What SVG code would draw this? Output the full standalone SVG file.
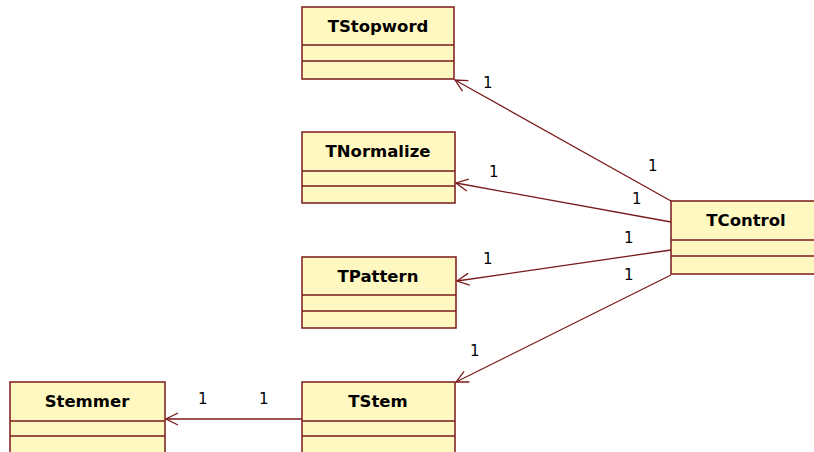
<svg xmlns="http://www.w3.org/2000/svg" width="814" height="452" viewBox="0 0 814 452">
<style>
.box{fill:#fff8c0;stroke:#7a1a1a;stroke-width:1.5}
.div{stroke:#7a1a1a;stroke-width:1.5}
.name{font-family:"DejaVu Sans",sans-serif;font-weight:bold;font-size:16.5px;fill:#000;text-anchor:middle}
.mult{font-family:"DejaVu Sans",sans-serif;font-size:15px;fill:#000}
.conn{stroke:#7a1a1a;stroke-width:1.3;fill:none;marker-end:url(#open)}
</style>
<defs>
<marker id="open" viewBox="0 0 14 14" refX="13" refY="7" markerWidth="14" markerHeight="14" markerUnits="userSpaceOnUse" orient="auto">
<path d="M1,1 L13,7 L1,13" fill="none" stroke="#7a1a1a" stroke-width="1.3"/>
</marker>
</defs>
<rect width="814" height="452" fill="#fff"/>
<g id="connectors">
<line class="conn" x1="671" y1="201" x2="455" y2="80"/>
<line class="conn" x1="671" y1="222" x2="456" y2="183"/>
<line class="conn" x1="671" y1="250" x2="457" y2="281"/>
<line class="conn" x1="671" y1="275" x2="456" y2="382"/>
<line class="conn" x1="302" y1="419" x2="166" y2="419"/>
<text class="mult" x="483" y="88">1</text>
<text class="mult" x="648" y="171">1</text>
<text class="mult" x="489" y="177">1</text>
<text class="mult" x="632" y="204">1</text>
<text class="mult" x="483" y="264">1</text>
<text class="mult" x="624" y="243">1</text>
<text class="mult" x="624" y="280">1</text>
<text class="mult" x="470" y="356">1</text>
<text class="mult" x="198" y="404">1</text>
<text class="mult" x="259" y="404">1</text>
</g>
<g id="TStopword">
<rect class="box" x="302" y="7" width="152" height="72"/>
<line class="div" x1="302" y1="45" x2="454" y2="45"/>
<line class="div" x1="302" y1="61" x2="454" y2="61"/>
<text class="name" x="378" y="32">TStopword</text>
</g>
<g id="TNormalize">
<rect class="box" x="302" y="132" width="153" height="71"/>
<line class="div" x1="302" y1="171" x2="455" y2="171"/>
<line class="div" x1="302" y1="186" x2="455" y2="186"/>
<text class="name" x="378" y="157">TNormalize</text>
</g>
<g id="TPattern">
<rect class="box" x="302" y="257" width="154" height="71"/>
<line class="div" x1="302" y1="295" x2="456" y2="295"/>
<line class="div" x1="302" y1="311" x2="456" y2="311"/>
<text class="name" x="378" y="282">TPattern</text>
</g>
<g id="TStem">
<rect class="box" x="302" y="382" width="153" height="80"/>
<line class="div" x1="302" y1="421" x2="455" y2="421"/>
<line class="div" x1="302" y1="436" x2="455" y2="436"/>
<text class="name" x="378" y="407">TStem</text>
</g>
<g id="Stemmer">
<rect class="box" x="10" y="382" width="155" height="80"/>
<line class="div" x1="10" y1="421" x2="165" y2="421"/>
<line class="div" x1="10" y1="436" x2="165" y2="436"/>
<text class="name" x="87" y="407">Stemmer</text>
</g>
<g id="TControl">
<rect class="box" x="671" y="201" width="160" height="73"/>
<line class="div" x1="671" y1="240" x2="831" y2="240"/>
<line class="div" x1="671" y1="256" x2="831" y2="256"/>
<text class="name" x="746" y="226">TControl</text>
</g>
</svg>
